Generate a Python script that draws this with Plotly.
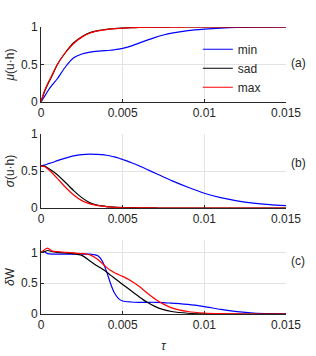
import plotly.graph_objects as go
from plotly.subplots import make_subplots

tau = [0, 0.0002, 0.0004, 0.0007, 0.001, 0.0015, 0.002, 0.0025, 0.003, 0.0035,
       0.00375, 0.004, 0.00425, 0.0045, 0.00475, 0.005, 0.0055, 0.006, 0.0065,
       0.007, 0.0075, 0.008, 0.009, 0.01, 0.011, 0.012, 0.013, 0.014, 0.015]

series_names = ["min", "sad", "max"]
series_colors = ["#0000ff", "#000000", "#ff0000"]

# panel (a): mu(u.h)
mu_min = [0, 0.07, 0.14, 0.23, 0.31, 0.47, 0.59, 0.64, 0.665, 0.678,
          0.682, 0.686, 0.69, 0.697, 0.705, 0.715, 0.745, 0.785, 0.825,
          0.862, 0.893, 0.918, 0.952, 0.972, 0.986, 0.994, 0.998, 0.999, 1.0]
mu_sad = [0, 0.13, 0.23, 0.36, 0.5, 0.66, 0.79, 0.87, 0.925, 0.952,
          0.96, 0.968, 0.974, 0.979, 0.983, 0.986, 0.991, 0.994, 0.996,
          0.998, 0.999, 1.0, 1.0, 1.0, 1.0, 1.0, 1.0, 1.0, 1.0]
mu_max = [0, 0.14, 0.24, 0.37, 0.5, 0.66, 0.78, 0.865, 0.92, 0.948,
          0.957, 0.965, 0.971, 0.977, 0.981, 0.985, 0.99, 0.993, 0.996,
          0.997, 0.998, 0.999, 1.0, 1.0, 1.0, 1.0, 1.0, 1.0, 1.0]

# panel (b): sigma(u.h)
sg_min = [0.57, 0.58, 0.595, 0.615, 0.64, 0.675, 0.705, 0.722, 0.728, 0.724,
          0.72, 0.713, 0.703, 0.69, 0.675, 0.655, 0.615, 0.57, 0.52,
          0.47, 0.42, 0.37, 0.28, 0.2, 0.14, 0.097, 0.066, 0.046, 0.033]
sg_sad = [0.57, 0.565, 0.545, 0.5, 0.45, 0.345, 0.235, 0.14, 0.07, 0.037,
          0.028, 0.02, 0.015, 0.012, 0.009, 0.007, 0.005, 0.003, 0.002,
          0.001, 0, 0, 0, 0, 0, 0, 0, 0, 0]
sg_max = [0.57, 0.56, 0.53, 0.47, 0.4, 0.28, 0.175, 0.1, 0.055, 0.032,
          0.025, 0.018, 0.013, 0.01, 0.007, 0.005, 0.003, 0.002, 0.001,
          0, 0, 0, 0, 0, 0, 0, 0, 0, 0]

# panel (c): delta W
dw_min = [1.0, 1.01, 0.98, 0.97, 0.97, 0.97, 0.97, 0.97, 0.97, 0.94,
          0.86, 0.7, 0.5, 0.34, 0.25, 0.21, 0.195, 0.19, 0.19,
          0.19, 0.185, 0.175, 0.155, 0.12, 0.075, 0.04, 0.016, 0.005, 0.001]
dw_sad = [1.0, 1.01, 1.03, 1.01, 1.0, 0.99, 0.98, 0.95, 0.86, 0.77,
          0.73, 0.685, 0.63, 0.58, 0.53, 0.48, 0.38, 0.28, 0.19,
          0.12, 0.07, 0.04, 0.012, 0.003, 0.001, 0, 0, 0, 0]
dw_max = [1.0, 1.04, 1.07, 1.02, 1.01, 1.0, 0.99, 0.98, 0.96, 0.88,
          0.82, 0.76, 0.71, 0.67, 0.64, 0.61, 0.54, 0.45, 0.34,
          0.24, 0.16, 0.1, 0.04, 0.015, 0.005, 0.001, 0, 0, 0]

x_ticks = [0, 0.005, 0.01, 0.015]
x_ticktext = ["0", "0.005", "0.01", "0.015"]
y_ticks = [0, 0.5, 1]
y_ticktext = ["0", "0.5", "1"]
panel_labels = ["(a)", "(b)", "(c)"]
y_titles = ["<i>μ</i>(u·h)", "<i>σ</i>(u·h)", "<i>δ</i>W"]

panels = [[mu_min, mu_sad, mu_max], [sg_min, sg_sad, sg_max], [dw_min, dw_sad, dw_max]]

fig = make_subplots(rows=3, cols=1)

for r, data in enumerate(panels, start=1):
    for name, color, ys in zip(series_names, series_colors, data):
        fig.add_trace(go.Scatter(
            x=tau, y=ys, mode="lines", name=name,
            line=dict(color=color, width=1.2, shape="spline", smoothing=0.6),
            showlegend=(r == 1)), row=r, col=1)

font_color = "#262626"
domains = [[0.7387, 1.0], [0.3693, 0.6272], [0.0, 0.2578]]
yranges = [[0, 1], [0, 1], [0, 1.2]]

for i in range(3):
    sfx = "" if i == 0 else str(i + 1)
    fig.layout["xaxis" + sfx].update(
        range=[0, 0.015], tickvals=x_ticks, ticktext=x_ticktext, automargin=False,
        showline=True, linecolor=font_color, linewidth=1,
        ticks="inside", ticklen=3, tickcolor=font_color,
        showgrid=True, gridcolor="#e3e3e3", gridwidth=1, zeroline=False,
        tickfont=dict(size=12, color=font_color))
    fig.layout["yaxis" + sfx].update(
        domain=domains[i], range=yranges[i], tickvals=y_ticks, ticktext=y_ticktext,
        automargin=False,
        showline=True, linecolor=font_color, linewidth=1,
        ticks="inside", ticklen=3, tickcolor=font_color,
        showgrid=True, gridcolor="#e3e3e3", gridwidth=1, zeroline=False,
        tickfont=dict(size=12, color=font_color),
        title=dict(text=y_titles[i], font=dict(size=12, color=font_color), standoff=3))

fig.layout.xaxis3.title = dict(text="<i>τ</i>", font=dict(size=12, color=font_color), standoff=10)

label_y = [0.8746, 0.526, 0.1847]
for lab, yy in zip(panel_labels, label_y):
    fig.add_annotation(text=lab, x=1.049, y=yy, xref="paper", yref="paper",
                       xanchor="center", yanchor="middle",
                       showarrow=False, font=dict(size=12, color=font_color))

fig.update_layout(
    width=316, height=356,
    margin=dict(l=41, r=30, t=27, b=42, autoexpand=False),
    paper_bgcolor="white", plot_bgcolor="white",
    font=dict(family="Liberation Sans, Arial, sans-serif", size=12, color=font_color),
    legend=dict(x=0.64, y=0.973, xanchor="left", yanchor="top",
                bgcolor="rgba(0,0,0,0)", font=dict(size=12, color=font_color),
                tracegroupgap=0),
)

fig.write_html("out.html", config={"displayModeBar": False},
               post_script="document.body.style.margin='0';document.body.style.overflow='hidden';")
